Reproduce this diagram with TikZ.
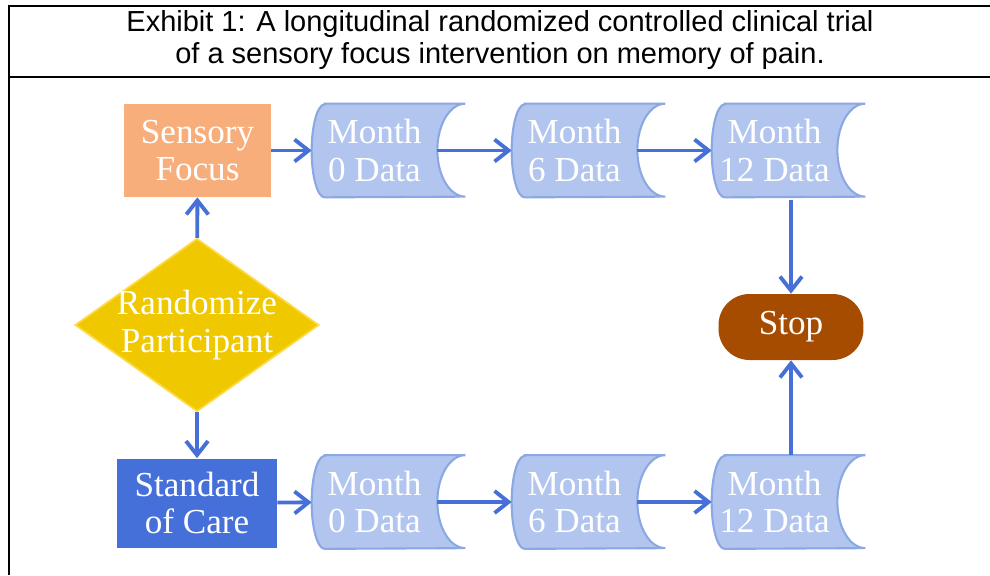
\documentclass[tikz,border=0pt]{standalone}
\usepackage{fontspec}
\setmainfont{Liberation Serif}
\setsansfont{Liberation Sans}
\usetikzlibrary{shapes.geometric,backgrounds,arrows.meta}
\definecolor{focusorange}{RGB}{247,174,122}
\definecolor{careblue}{RGB}{69,112,217}
\definecolor{datafill}{RGB}{178,197,238}
\definecolor{dataline}{RGB}{140,168,226}
\definecolor{gold}{RGB}{240,200,0}
\definecolor{goldline}{RGB}{255,218,70}
\definecolor{rust}{RGB}{166,76,0}
\definecolor{arrowblue}{RGB}{70,112,215}
\tikzset{>={Straight Barb[length=2.8mm,width=4.4mm]}}
\tikzset{
  label text/.style = {text=white, font=\fontsize{20}{21.5}\selectfont, align=center},
  procbox/.style = {label text, rectangle, inner sep=0pt},
  datanode/.style = {label text, minimum width=2.5cm, minimum height=1.86cm, inner sep=0pt},
  datashape/.style = {fill=datafill, draw=dataline, line width=1.2pt},
  decision/.style = {label text, diamond, fill=gold, draw=goldline, line width=1pt,
    aspect=1.41, inner sep=-4pt, minimum width=4.88cm, minimum height=3.46cm},
  terminal/.style = {label text, rectangle, rounded corners=0.62cm, fill=rust,
    minimum width=2.9cm, minimum height=1.32cm, inner sep=0pt},
  flow/.style = {->, arrowblue, line width=2.2pt},
  frame/.style = {black, line width=1.7pt}
}

\begin{document}
\begin{tikzpicture}[x=0.02cm,y=-0.02cm]
  \useasboundingbox (0,0) rectangle (990,575);
  \draw[frame] (9,575) -- (9,6) -- (990,6);
  \draw[frame] (9,77) -- (990,77);
  \node[font=\sffamily\fontsize{16.5}{18.4}\selectfont, align=center] (title) at (500,40)
    {Exhibit 1: A longitudinal randomized controlled clinical trial\\
     of a sensory focus intervention on memory of pain.};

  \node[procbox, fill=focusorange, minimum width=2.94cm, minimum height=1.86cm] (focus) at (197.5,150.5) {Sensory\\Focus};
  \node[procbox, fill=careblue, minimum width=3.2cm, minimum height=1.78cm] (care) at (197,503) {Standard\\of Care};
  \node[decision] (rand) at (197,325) {Randomize\\Participant};
  \node[terminal] (stop) at (791,327) {Stop};

  \node[datanode] (a0) at (374.5,150.5) {Month\\0 Data};
  \node[datanode] (a6) at (574.5,150.5) {Month\\6 Data};
  \node[datanode] (a12) at (774.5,150.5) {Month\\12 Data};
  \node[datanode] (b0) at (374.5,502) {Month\\0 Data};
  \node[datanode] (b6) at (574.5,502) {Month\\6 Data};
  \node[datanode] (b12) at (774.5,502) {Month\\12 Data};

  \begin{scope}[on background layer]
    \foreach \n in {a0,a6,a12,b0,b6,b12}
      \draw[datashape] ([xshift=0.26cm]\n.north west) -- ([xshift=0.56cm]\n.north east)
        arc[start angle=90, end angle=270, x radius=0.56cm, y radius=0.93cm]
        -- ([xshift=0.26cm]\n.south west)
        arc[start angle=270, end angle=90, x radius=0.26cm, y radius=0.93cm] -- cycle;
  \end{scope}

  \draw[flow] (rand) -- (focus);
  \draw[flow] (rand) -- (care);
  \draw[flow] (focus) -- (a0);
  \draw[flow] (a0) -- (a6);
  \draw[flow] (a6) -- (a12);
  \draw[flow] (care) -- (b0);
  \draw[flow] (b0) -- (b6);
  \draw[flow] (b6) -- (b12);
  \draw[flow] ([yshift=-0.05cm]a12.south -| stop) -- (stop);
  \draw[flow] (b12.north -| stop) -- (stop);
\end{tikzpicture}
\end{document}
